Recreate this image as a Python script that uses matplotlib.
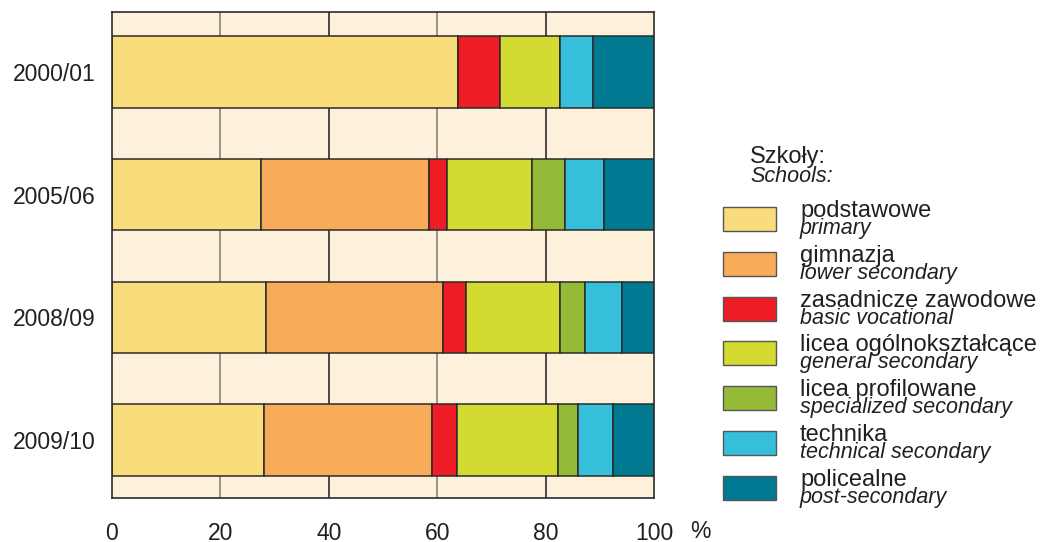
import numpy as np
import matplotlib.pyplot as plt
from matplotlib.patches import Rectangle

plt.rcParams['font.family'] = ['Liberation Sans', 'DejaVu Sans']

# school years (top to bottom)
years = ['2000/01', '2005/06', '2008/09', '2009/10']

# share of pupils by school type, %
podstawowe    = [63.9, 27.5, 28.4, 28.1]
gimnazja      = [0.0, 31.0, 32.7, 31.0]
zasadnicze    = [7.7, 3.4, 4.3, 4.6]
licea_ogolne  = [11.1, 15.5, 17.3, 18.5]
licea_profil  = [0.0, 6.2, 4.6, 3.7]
technika      = [6.1, 7.1, 6.8, 6.5]
policealne    = [11.2, 9.3, 5.9, 7.6]

series = [podstawowe, gimnazja, zasadnicze, licea_ogolne, licea_profil, technika, policealne]
names_pl = ['podstawowe', 'gimnazja', 'zasadnicze zawodowe', 'licea ogólnokształcące',
            'licea profilowane', 'technika', 'policealne']
names_en = ['primary', 'lower secondary', 'basic vocational', 'general secondary',
            'specialized secondary', 'technical secondary', 'post-secondary']
colors = ['#F9DC7C', '#F8AB58', '#EE1C25', '#D3DA32', '#94BA38', '#36BFDA', '#007A93']
xticks = [0, 20, 40, 60, 80, 100]

txt = '#231F20'
edge = '#2B2B2B'

fig = plt.figure(figsize=(10.42, 5.42), dpi=100)
ax = fig.add_axes([112/1042, 1 - 498/542, 542/1042, 486/542])
ax.set_facecolor('#FEF1DC')

y = np.arange(len(years))
left = np.zeros(len(years))
for vals, col in zip(series, colors):
    vals = np.array(vals)
    ax.barh(y, vals, left=left, height=0.58, color=col, edgecolor=edge,
            linewidth=1.1, zorder=3)
    left += vals

# vertical grid in the cream bands
for xv, gc in zip(xticks[1:-1], ['#8a8276', '#2B2B2B', '#8a8276', '#2B2B2B']):
    ax.axvline(xv, color=gc, lw=1.2, zorder=1)

ax.set_xlim(0, 100)
ax.set_ylim(3.473, -0.489)
ax.set_yticks(y)
ax.set_yticklabels(years)
ax.set_xticks(xticks)
ax.tick_params(axis='y', length=0, pad=12, labelsize=16.5, labelcolor=txt)
ax.tick_params(axis='x', length=0, pad=17, labelsize=16.5, labelcolor=txt)
for s in ax.spines.values():
    s.set_color(edge)
    s.set_linewidth(1.2)
    s.set_zorder(4)

fig.text(700/1042, 1 - 532/542, '%', fontsize=16.5, color=txt, ha='center', va='center')

# legend drawn in pixel coordinates
lax = fig.add_axes([0, 0, 1, 1])
lax.set_xlim(0, 1042)
lax.set_ylim(542, 0)
lax.axis('off')
lax.text(750, 163, 'Szkoły:', fontsize=17, color=txt, va='baseline')
lax.text(750, 182, 'Schools:', fontsize=15.5, style='italic', color=txt, va='baseline')
for i, (pl, en, col) in enumerate(zip(names_pl, names_en, colors)):
    c = 219 + i * 44.8
    lax.add_patch(Rectangle((723, c - 12), 53, 24, facecolor=col, edgecolor='#555555', lw=1))
    lax.text(800, c - 2, pl, fontsize=17, color=txt, va='baseline')
    lax.text(800, c + 15, en, fontsize=15.5, style='italic', color=txt, va='baseline')

fig.savefig('out.png', dpi=100)
